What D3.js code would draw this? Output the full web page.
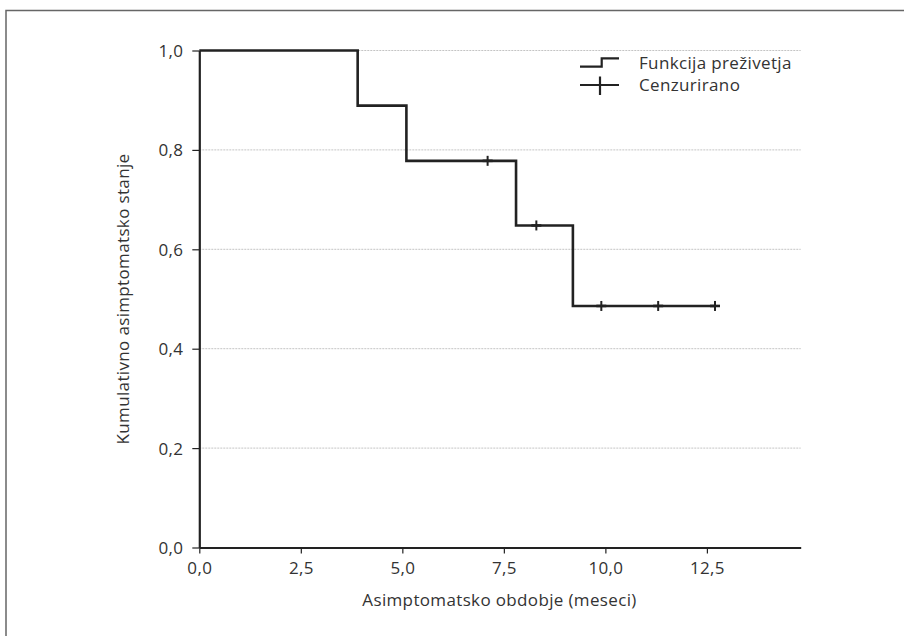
<!DOCTYPE html>
<html>
<head>
<meta charset="utf-8">
<script src="https://cdn.jsdelivr.net/npm/d3@7"></script>
<style>
  html, body { margin: 0; padding: 0; background: #fff; }
  svg { display: block; }
  text { font-family: "Open Sans", Roboto, sans-serif; fill: #333; letter-spacing: 0.35px; }
</style>
</head>
<body>
<svg id="chart" width="904" height="636"></svg>
<script>
// Kaplan-Meier step data
const stepTimes = [0, 3.9, 5.1, 7.8, 9.2];
const stepValues = [1.0, 0.889, 0.778, 0.648, 0.486];
const endTime = 12.7;
const censorTimes = [7.1, 8.3, 9.9, 11.3, 12.7];
const censorValues = [0.778, 0.648, 0.486, 0.486, 0.486];
const xTicks = [0, 2.5, 5.0, 7.5, 10.0, 12.5];
const yTicks = [0, 0.2, 0.4, 0.6, 0.8, 1.0];
const xTitle = "Asimptomatsko obdobje (meseci)";
const yTitle = "Kumulativno asimptomatsko stanje";
const legendLabels = ["Funkcija preživetja", "Cenzurirano"];

(function () {
const svg = d3.select("#chart");
const FONT = "'Open Sans', Roboto, sans-serif";
const FS = 17;
const pLeft = 199.3, pRight = 800.7, pTop = 50.5, pBottom = 547.5;
const x = d3.scaleLinear().domain([0, 14.81]).range([pLeft, pRight]);
const y = d3.scaleLinear().domain([0, 1]).range([pBottom, pTop]);
const fmt = v => d3.format(".1f")(v).replace(".", ",");
const ink = "#222";

// outer frame (top + left)
svg.append("path").attr("d", "M6,636 V10.5 H904")
  .attr("fill", "none").attr("stroke", "#666").attr("stroke-width", 1.5);

// gridlines
svg.append("g").selectAll("line").data(yTicks.filter(d => d > 0)).join("line")
  .attr("x1", pLeft).attr("x2", pRight)
  .attr("y1", d => y(d)).attr("y2", d => y(d))
  .attr("stroke", "#c4c4c4").attr("stroke-width", 1).attr("stroke-dasharray", "2,1");

// axes
const xAxis = d3.axisBottom(x).tickValues(xTicks).tickFormat(fmt).tickSize(6).tickSizeOuter(0).tickPadding(4);
const gx = svg.append("g").attr("transform", `translate(0,${pBottom})`).call(xAxis);
const yAxis = d3.axisLeft(y).tickValues(yTicks).tickFormat(fmt).tickSize(7).tickSizeOuter(0).tickPadding(9);
const gy = svg.append("g").attr("transform", `translate(${pLeft},0)`).call(yAxis);
[gx, gy].forEach(g => {
  g.select(".domain").attr("stroke", ink).attr("stroke-width", 2.2);
  g.selectAll(".tick line").attr("stroke", ink).attr("stroke-width", 1.2);
  g.selectAll(".tick text").attr("font-size", FS).attr("fill", "#333")
    .attr("font-family", FONT);
});
gx.selectAll(".tick text").attr("dy", "0.95em");
gy.selectAll(".tick text").attr("dy", "0.35em");

// survival step line
const pts = stepTimes.map((t, i) => [t, stepValues[i]]);
pts.push([endTime, stepValues[stepValues.length - 1]]);
const line = d3.line().x(d => x(d[0])).y(d => y(d[1])).curve(d3.curveStepAfter);
svg.append("path").datum(pts).attr("d", line)
  .attr("fill", "none").attr("stroke", ink).attr("stroke-width", 2.6);

// censor marks
const cg = svg.append("g");
censorTimes.forEach((t, i) => {
  const cx = x(t), cy = y(censorValues[i]);
  cg.append("line").attr("x1", cx - 5).attr("x2", cx + 5).attr("y1", cy).attr("y2", cy)
    .attr("stroke", ink).attr("stroke-width", 2.6);
  cg.append("line").attr("x1", cx).attr("x2", cx).attr("y1", cy - 5).attr("y2", cy + 5)
    .attr("stroke", ink).attr("stroke-width", 2);
});

// axis titles
svg.append("text").attr("x", (pLeft + pRight) / 2 - 0.5).attr("y", 606)
  .attr("text-anchor", "middle").attr("font-size", FS).text(xTitle);
svg.append("text").attr("transform", `translate(129,${(pTop + pBottom) / 2}) rotate(-90)`)
  .attr("text-anchor", "middle").attr("font-size", FS).text(yTitle);

// legend
const lg = svg.append("g");
lg.append("path").attr("d", "M580,66.7 H601.7 V58.3 H619")
  .attr("fill", "none").attr("stroke", ink).attr("stroke-width", 2.2);
lg.append("line").attr("x1", 580).attr("x2", 619).attr("y1", 85).attr("y2", 85)
  .attr("stroke", ink).attr("stroke-width", 2.2);
lg.append("line").attr("x1", 600).attr("x2", 600).attr("y1", 76.5).attr("y2", 95)
  .attr("stroke", ink).attr("stroke-width", 2.2);
lg.selectAll("text.lab").data(legendLabels).join("text").attr("class", "lab")
  .attr("x", 639).attr("y", (d, i) => 63 + i * 22).attr("dy", "0.35em")
  .attr("font-size", FS).text(d => d);
})();
</script>
</body>
</html>
